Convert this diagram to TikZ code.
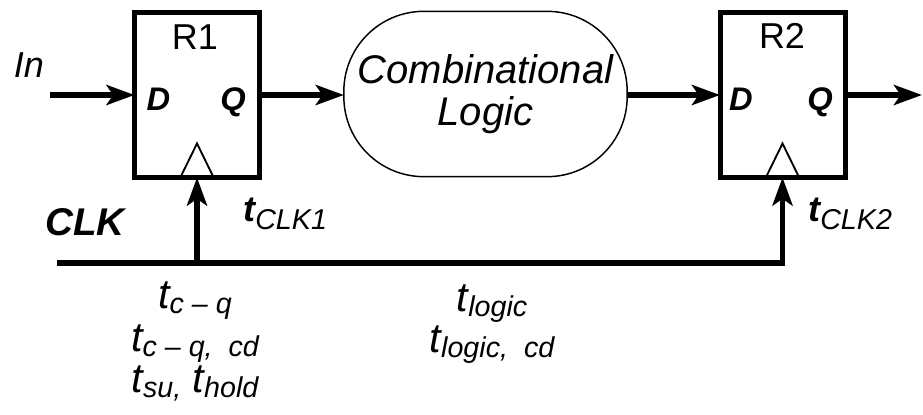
\documentclass[tikz,border=0pt]{standalone}
\usepackage{fontspec}
\setmainfont{Liberation Sans}
\usetikzlibrary{arrows.meta}
\newcommand{\tsub}[2]{#1\raisebox{-4pt}{\fontsize{21.5}{24}\selectfont #2}}
\begin{document}
\begin{tikzpicture}[x=0.75pt,y=-0.75pt,
  reg/.style={draw,line width=3.75pt,minimum width=93.75pt,minimum height=123.75pt,inner sep=0pt,outer sep=0pt},
  logicbox/.style={draw,line width=1.1pt,rounded corners=60pt,minimum width=212.5pt,minimum height=124pt,inner sep=0pt,outer sep=0pt,
    font=\fontsize{30}{34}\selectfont\itshape,align=center},
  wire/.style={line width=4pt,-{Stealth[length=21pt,width=15pt,inset=5pt]}},
  tri/.style={line width=1.4pt,line join=miter},
  pin/.style={font=\fontsize{24.5}{28}\selectfont\bfseries\itshape,anchor=base,inner sep=0pt},
  regname/.style={font=\fontsize{27}{30}\selectfont,anchor=base,inner sep=0pt},
  lbl/.style={font=\fontsize{31}{34}\selectfont\itshape,anchor=base,inner sep=0pt},
  clklbl/.style={font=\fontsize{27}{30}\selectfont\itshape,anchor=base west,inner sep=0pt}
]
\useasboundingbox (0,0) rectangle (923,414);

% registers and logic
\node[reg] (R1) at (197,95) {};
\node[reg] (R2) at (782.5,95) {};
\node[logicbox] (L) at (485.5,94) {Combinational\\[-2pt]Logic};

% clock triangles
\draw[tri] ([xshift=-12.5pt]R1.south) -- ++(12.5pt,25.5pt) -- ++(12.5pt,-25.5pt);
\draw[tri] ([xshift=-12.5pt]R2.south) -- ++(12.5pt,25.5pt) -- ++(12.5pt,-25.5pt);

% texts in registers
\node[regname] (R1n) at (195,49) {R1};
\node[regname] (R2n) at (782,48) {R2};
\node[pin] (R1D) at (158.5,110) {D};
\node[pin] (R1Q) at (233,110) {Q};
\node[pin] (R2D) at (741,110) {D};
\node[pin] (R2Q) at (820,110) {Q};

% data path
\coordinate (inL) at (50,95);
\coordinate (outR) at (922,95);
\draw[wire] (inL) -- (R1.west);
\draw[wire] (R1.east) -- (R1.east -| L.west);
\draw[wire] (L.east |- R2.west) -- (R2.west);
\draw[wire] (R2.east) -- (outR);
\node[anchor=base,inner sep=0pt,font=\fontsize{27}{30}\selectfont\itshape] (In) at (29,77) {In};

% clock
\coordinate (clkL) at (57,263);
\draw[wire] (clkL) -| (R2.south);
\draw[wire] (R1.south |- clkL) -- (R1.south);
\node[anchor=base,inner sep=0pt,font=\fontsize{29}{32}\selectfont\bfseries\itshape] (CLK) at (85,235) {CLK};
\node[clklbl] (tc1) at (243,221) {\textbf{t}\raisebox{-6pt}{\fontsize{21.5}{24}\selectfont CLK1}};
\node[clklbl] (tc2) at (808,221) {\textbf{t}\raisebox{-6pt}{\fontsize{21.5}{24}\selectfont CLK2}};

% timing parameters
\node[lbl] (tcq) at (195,308) {\tsub{t}{c – q}};
\node[lbl] (tcqcd) at (195,351) {\tsub{t}{c – q,~ cd}};
\node[lbl] (tsuhold) at (195,392) {\tsub{t}{su,} \tsub{t}{hold}};
\node[lbl] (tlog) at (492,311) {\tsub{t}{logic}};
\node[lbl] (tlogcd) at (492,352) {\tsub{t}{logic,~ cd}};
\end{tikzpicture}
\end{document}
